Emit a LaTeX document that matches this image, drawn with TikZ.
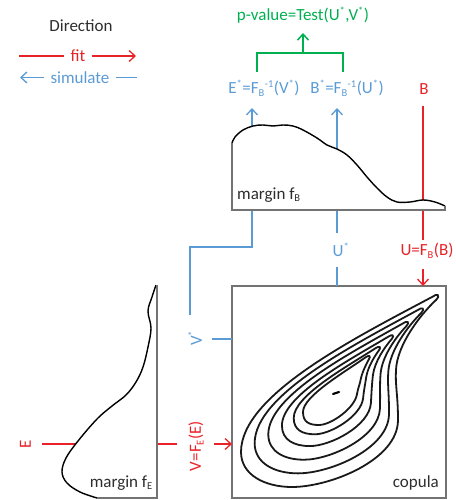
\documentclass[tikz,border=0pt]{standalone}
\usepackage{fontspec}
\setmainfont{Carlito}
\usetikzlibrary{arrows.meta,calc}
\definecolor{fitred}{RGB}{232,34,40}
\definecolor{simblue}{RGB}{91,155,213}
\definecolor{testgreen}{RGB}{0,176,80}
\definecolor{boxgray}{RGB}{115,115,115}
\definecolor{txtgray}{RGB}{45,45,45}
\newcommand\myup[1]{\textsuperscript{\fontsize{10.5}{10.5}\selectfont #1}}
\newcommand\mydn[1]{\textsubscript{\fontsize{10.5}{10.5}\selectfont #1}}
\begin{document}
\begin{tikzpicture}[x=1pt,y=-1pt,
  lbl/.style={inner sep=0pt, font=\fontsize{17}{19}\selectfont},
  leg/.style={lbl, inner xsep=6pt},
  arr/.style={-{Straight Barb[length=6pt,width=11pt]}},
  fitline/.style={fitred, line width=1.3pt},
  simline/.style={simblue, line width=1.3pt},
  testline/.style={testgreen, line width=1.5pt},
  edge/.style={boxgray, line width=1.3pt},
  dens/.style={black, line width=1.4pt},
  contour/.style={black!90, line width=1.8pt}]
\useasboundingbox (0,0) rectangle (455,500);

% ---------- legend ----------
\node[lbl, txtgray] (dir) at (81,26) {Direction};
\node[leg, fitred] (fit) at (78,56) {fit};
\node[leg, simblue] (sim) at (80,77.5) {simulate};
\coordinate (fitL) at (19,56);
\coordinate (fitR) at (136,56);
\coordinate (simL) at (20,77.5);
\coordinate (simR) at (137,77.5);
\draw[fitline] (fitL) -- (fit.west);
\draw[fitline,arr] (fit.east) -- (fitR);
\draw[simline,arr] (sim.west) -- (simL);
\draw[simline] (sim.east) -- (simR);

% ---------- top labels ----------
\node[lbl, testgreen] (pval) at (303,15) {p-value=Test(U\myup{*},V\myup{*})};
\node[lbl, simblue] (Es) at (264,88) {E\myup{*}=F\mydn{B}\myup{-1}(V\myup{*})};
\node[lbl, simblue] (Bs) at (347,88) {B\myup{*}=F\mydn{B}\myup{-1}(U\myup{*})};
\node[lbl, fitred] (B) at (424,89) {B};

\coordinate (brL) at (257,72);
\coordinate (brLt) at (257,53);
\coordinate (brRt) at (343,53);
\coordinate (brR) at (343,72);
\coordinate (brM) at (303,53);
\coordinate (pvA) at (303,33);
\draw[testline] (brL) -- (brLt) -- (brRt) -- (brR);
\draw[testline,arr] (brM) -- (pvA);

% ---------- connectors behind the margins ----------
\coordinate (vA) at (190,315);
\coordinate (vB) at (190,247);
\coordinate (vC) at (252,247);
\coordinate (vD) at (252,108);
\draw[simline,arr] (vA) -- (vB) -- (vC) -- (vD);
\coordinate (uC) at (337,233);
\coordinate (uD) at (337,108);
\draw[simline,arr] (uC) -- (uD);
\coordinate (rA) at (423,106);
\coordinate (rB) at (423,240);
\draw[fitline] (rA) -- (rB);
\coordinate (eA) at (42,444);
\coordinate (eB) at (177,444);
\draw[fitline] (eA) -- (eB);

% ---------- margin f_B ----------
\fill[white] plot[smooth, tension=0.6] coordinates {(232,143) (235,137) (243,130) (253,126) (263,125) (273,126) (283,125) (293,126) (303,130) (317,138) (327,145) (337,149) (347,155) (357,165) (367,177) (377,188) (387,197) (397,202) (410,202) (423,200) (435,202) (445,206)} -- (445,210) -- (232,210) -- cycle;
\draw[dens] plot[smooth, tension=0.6] coordinates {(232,143) (235,137) (243,130) (253,126) (263,125) (273,126) (283,125) (293,126) (303,130) (317,138) (327,145) (337,149) (347,155) (357,165) (367,177) (377,188) (387,197) (397,202) (410,202) (423,200) (435,202) (445,206)};
\coordinate (fb1) at (232,143);
\coordinate (fb2) at (232,210);
\coordinate (fb3) at (445,210);
\coordinate (fb4) at (445,206);
\draw[edge] (fb1) -- (fb2) -- (fb3) -- (fb4);
\node[lbl, txtgray, anchor=west] (mB) at (237,195) {margin f\mydn{B}};

% ---------- margin f_E ----------
\fill[white] plot[smooth, tension=0.6] coordinates {(156,285) (152,297) (148,311) (151,328) (148,347) (143,367) (136,382) (126,395) (112,406) (97,419) (78,441) (66,458) (62,472) (67,483) (80,492) (97,498)} -- (157,498) -- (157,285) -- cycle;
\draw[dens] plot[smooth, tension=0.6] coordinates {(156,285) (152,297) (148,311) (151,328) (148,347) (143,367) (136,382) (126,395) (112,406) (97,419) (78,441) (66,458) (62,472) (67,483) (80,492) (97,498)};
\coordinate (fe1) at (97,498);
\coordinate (fe2) at (157,498);
\coordinate (fe3) at (157,285);
\draw[edge] (fe1) -- (fe2) -- (fe3);
\node[lbl, txtgray, anchor=east] (mE) at (153,483) {margin f\mydn{E}};

% ---------- copula ----------
\coordinate (c1) at (232,286);
\coordinate (c2) at (446,498);
\draw[edge] (c1) rectangle (c2);
\begin{scope}[shift={(335,390)}]
  % outer contour
  \coordinate (oTs) at (97,-93);  \coordinate (o1a) at (20,-52);  \coordinate (o1b) at (-94,5);
  \coordinate (oL) at (-94,62);   \coordinate (o2a) at (-94,85);  \coordinate (o2b) at (-70,97);
  \coordinate (oB) at (-43,97);   \coordinate (o3a) at (-5,97);   \coordinate (o3b) at (63,70);
  \coordinate (oR) at (63,30);    \coordinate (o4a) at (63,5);    \coordinate (o4b) at (60,-5);
  \coordinate (oN) at (61,-20);   \coordinate (o5a) at (62,-45);  \coordinate (o5b) at (85,-75);
  \coordinate (oTe) at (101,-90); \coordinate (o6a) at (106,-95); \coordinate (o6b) at (102,-97);
  % innermost contour
  \coordinate (iTs) at (31,-33);  \coordinate (i1a) at (10,-18);  \coordinate (i1b) at (-32,6);
  \coordinate (iL) at (-32,22);   \coordinate (i2a) at (-32,32);  \coordinate (i2b) at (-26,35);
  \coordinate (iB) at (-16,35);   \coordinate (i3a) at (-4,35);   \coordinate (i3b) at (20,18);
  \coordinate (iR) at (22,4);     \coordinate (i4a) at (23,-2);   \coordinate (i4b) at (25,-6);
  \coordinate (iN) at (26,-12);   \coordinate (i5a) at (28,-20);  \coordinate (i5b) at (32,-27);
  \coordinate (iTe) at (34,-31);  \coordinate (i6a) at (36,-34);  \coordinate (i6b) at (34,-35);
\end{scope}
\foreach \t in {0,0.22,0.44,0.66,0.85,1}{
  \draw[contour] ($(oTs)!\t!(iTs)$)
    .. controls ($(o1a)!\t!(i1a)$) and ($(o1b)!\t!(i1b)$) .. ($(oL)!\t!(iL)$)
    .. controls ($(o2a)!\t!(i2a)$) and ($(o2b)!\t!(i2b)$) .. ($(oB)!\t!(iB)$)
    .. controls ($(o3a)!\t!(i3a)$) and ($(o3b)!\t!(i3b)$) .. ($(oR)!\t!(iR)$)
    .. controls ($(o4a)!\t!(i4a)$) and ($(o4b)!\t!(i4b)$) .. ($(oN)!\t!(iN)$)
    .. controls ($(o5a)!\t!(i5a)$) and ($(o5b)!\t!(i5b)$) .. ($(oTe)!\t!(iTe)$)
    .. controls ($(o6a)!\t!(i6a)$) and ($(o6b)!\t!(i6b)$) .. cycle;
}
\coordinate (dotA) at (333,394);
\coordinate (dotB) at (339,392);
\draw[black, line width=2.2pt, line cap=round] (dotA) -- (dotB);
\node[lbl, txtgray, anchor=east] (cop) at (439,483) {copula};

% ---------- labels & connectors to copula ----------
\node[lbl, simblue, rotate=90] (Vs) at (195,338) {V\myup{*}};
\coordinate (vE) at (212,339);
\coordinate (copV) at (232,339);
\draw[simline] (vE) -- (copV);

\node[lbl, simblue] (Us) at (341,250) {U\myup{*}};
\coordinate (uA) at (337,286);
\coordinate (uB) at (337,267);
\draw[simline] (uA) -- (uB);

\node[lbl, fitred] (UF) at (427,251) {U=F\mydn{B}(B)};
\coordinate (rC) at (423,269);
\coordinate (rD) at (423,286);
\draw[fitline,arr] (rC) -- (rD);

\node[lbl, fitred, rotate=90] (E) at (25.5,444) {E};
\node[lbl, fitred, rotate=90] (VF) at (196,446) {V=F\mydn{E}(E)};
\coordinate (eC) at (214,444);
\coordinate (eD) at (232,444);
\draw[fitline,arr] (eC) -- (eD);
\end{tikzpicture}
\end{document}
